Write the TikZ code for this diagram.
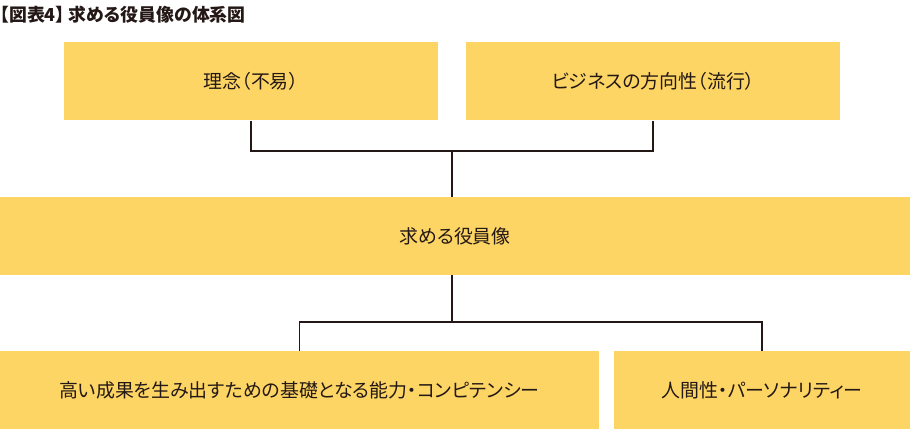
\documentclass[tikz,border=0pt]{standalone}
\usepackage{fontspec}
\setmainfont{Noto Sans CJK JP}[RawFeature={+palt}]
\usepackage{xcolor}
\usetikzlibrary{positioning, calc}

\definecolor{boxyellow}{HTML}{FDD564}
\definecolor{inkdark}{HTML}{231815}

\begin{document}
\begin{tikzpicture}[x=0.75pt, y=-0.75pt, font=\fontsize{14.2pt}{17pt}\selectfont, text=inkdark,
    ybox/.style={fill=boxyellow, inner sep=0pt, minimum height=58.5pt},
    branch/.style={draw=inkdark, line width=1.4pt},
    trunk/.style={draw=inkdark, line width=2.2pt}]
        \useasboundingbox (0,0) rectangle (910,434);

        \node[anchor=west, font=\fontsize{13.4pt}{15pt}\selectfont\bfseries, inner sep=0pt] (title) at (0,14.5) {【図表4】\hspace{3pt}求める役員像の体系図};

        \node[ybox, minimum width=280.5pt] (rinen) at (251,81.5) {理念（不易）};
        \node[ybox, minimum width=280.5pt] (biz) at (653,81.5) {ビジネスの方向性（流行）};
        \node[ybox, minimum width=682.5pt] (yakuin) at (455,236) {求める役員像};
        \node[ybox, minimum width=449.25pt] (noryoku) at (299.5,390) {高い成果を生み出すための基礎となる能力・コンピテンシー};
        \node[ybox, minimum width=222pt] (jinkaku) at (762,390) {人間性・パーソナリティー};

        % upper tree
        \coordinate (j1) at ($(rinen.south)!0.5!(biz.south)+(0,30)$);
        \draw[branch] (rinen.south) |- (j1) -| (biz.south);
        \draw[trunk] (j1) -- (j1 |- yakuin.north);

        % lower tree
        \coordinate (j2) at ($(j1 |- yakuin.south)+(0,47)$);
        \draw[trunk] (j1 |- yakuin.south) -- (j2);
        \draw[branch] (noryoku.north) |- (j2) -| (jinkaku.north);
    \end{tikzpicture}
\end{document}
